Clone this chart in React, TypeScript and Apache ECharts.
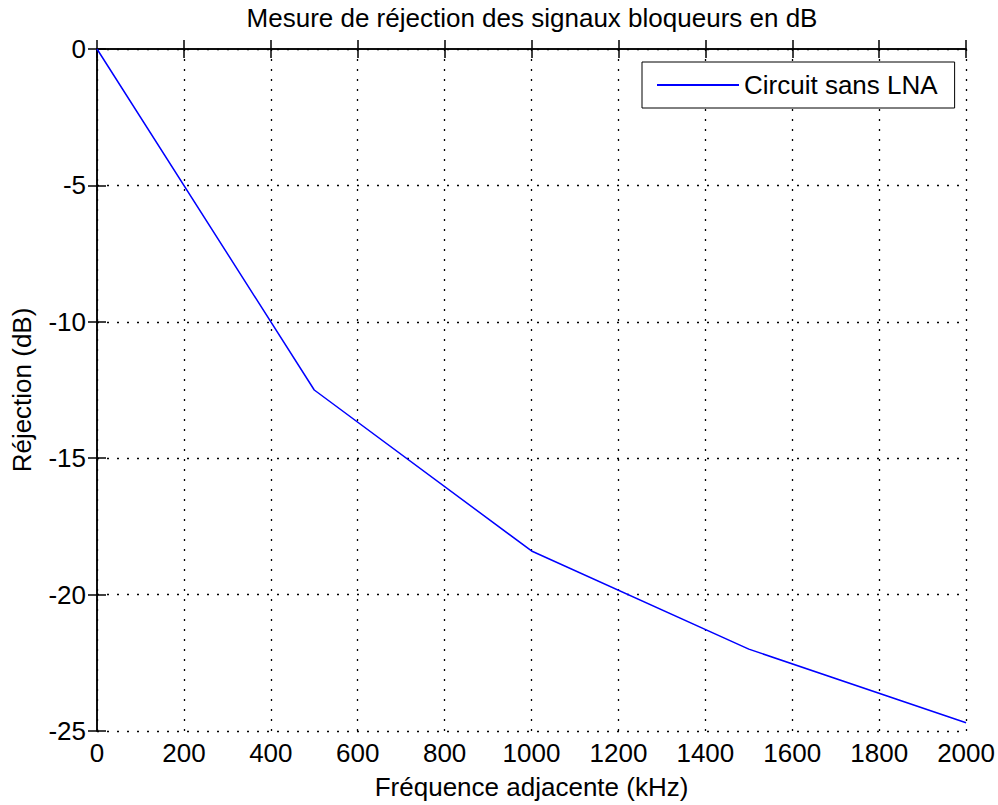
import React, { useEffect, useRef } from "react";
import * as echarts from "echarts";

const frequencies = [0, 500, 1000, 1500, 2000];
const rejection = [0, -12.5, -18.4, -22.0, -24.7];
const seriesName = "Circuit sans LNA";
const titleText = "Mesure de réjection des signaux bloqueurs en dB";
const xName = "Fréquence adjacente (kHz)";
const yName = "Réjection (dB)";

const FONT = "'Liberation Sans', Arial, sans-serif";
const FS = 26;

export default function App() {
  const ref = useRef<HTMLDivElement>(null);
  useEffect(() => {
    if (!ref.current) return;
    const chart = echarts.init(ref.current, null, { renderer: "svg" });
    const axisLine = { show: true, lineStyle: { color: "#000", width: 1.5 } };
    const tick = { show: true, inside: true, length: 9, lineStyle: { color: "#000", width: 1.5 } };
    const grid = { show: true, lineStyle: { color: "#000", width: 1.3, type: [2, 8] as any } };
    const plain = (v: number) => String(v);
    chart.setOption({
      animation: false,
      backgroundColor: "#fff",
      title: {
        text: titleText,
        left: 532,
        top: 5,
        padding: 0,
        textAlign: "center",
        textStyle: { fontFamily: FONT, fontSize: FS, fontWeight: "normal", color: "#000" },
      },
      legend: {
        left: 642,
        top: 62,
        padding: [10, 17, 10, 15],
        itemWidth: 82,
        itemHeight: 2,
        borderColor: "#000",
        borderWidth: 1,
        backgroundColor: "#fff",
        textStyle: { fontFamily: FONT, fontSize: FS, color: "#000" },
        data: [{ name: seriesName, icon: "rect", itemStyle: { color: "#0000ff" } }],
      },
      grid: { left: 97, top: 49, right: 30, bottom: 72 },
      xAxis: [
        {
          type: "value",
          min: 0,
          max: 2000,
          interval: 200,
          position: "bottom",
          axisLine,
          axisTick: tick,
          splitLine: grid,
          axisLabel: { fontFamily: FONT, fontSize: FS, color: "#000", margin: 9, formatter: plain },
          name: xName,
          nameLocation: "middle",
          nameGap: 43,
          nameTextStyle: { fontFamily: FONT, fontSize: FS, color: "#000" },
        },
        {
          type: "value",
          min: 0,
          max: 2000,
          interval: 200,
          position: "top",
          axisLine,
          axisTick: tick,
          splitLine: { show: false },
          axisLabel: { show: false },
        },
      ],
      yAxis: [
        {
          type: "value",
          min: -25,
          max: 0,
          interval: 5,
          position: "left",
          axisLine,
          axisTick: tick,
          splitLine: grid,
          axisLabel: { fontFamily: FONT, fontSize: FS, color: "#000", margin: 11, formatter: plain },
          name: yName,
          nameLocation: "middle",
          nameGap: 62,
          nameTextStyle: { fontFamily: FONT, fontSize: FS, color: "#000" },
        },
        {
          type: "value",
          min: -25,
          max: 0,
          interval: 5,
          position: "right",
          axisLine,
          axisTick: tick,
          splitLine: { show: false },
          axisLabel: { show: false },
        },
      ],
      series: [
        {
          name: seriesName,
          type: "line",
          data: frequencies.map((f, i) => [f, rejection[i]]),
          symbol: "none",
          showSymbol: false,
          lineStyle: { color: "#0000ff", width: 1.5 },
          itemStyle: { color: "#0000ff" },
        },
      ],
    });
    return () => chart.dispose();
  }, []);
  return (
    <div
      ref={ref}
      style={{ position: "fixed", left: 0, top: 0, width: 998, height: 805, background: "#fff" }}
    />
  );
}
